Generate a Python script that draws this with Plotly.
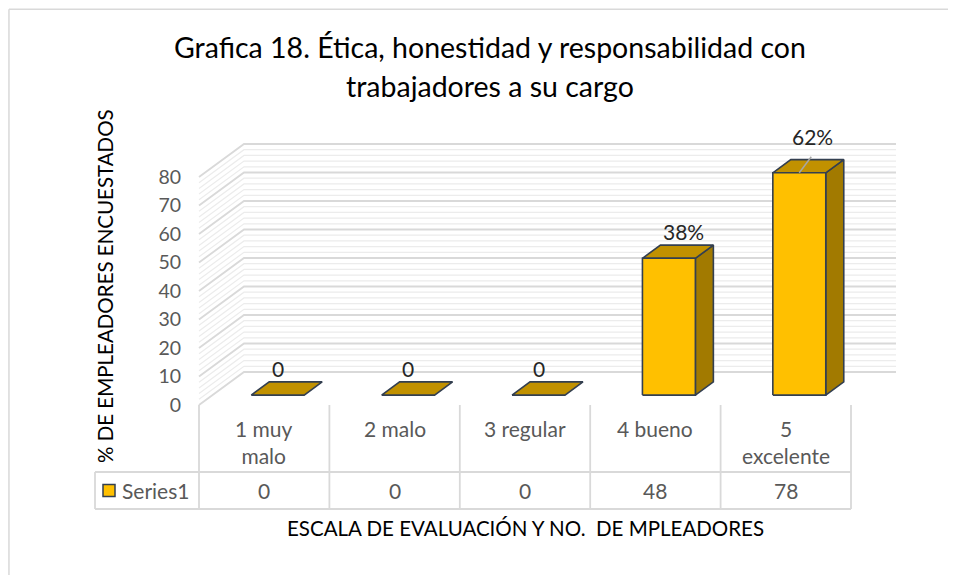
import plotly.graph_objects as go

# ---------------- data ----------------
categories = ["1 muy<br>malo", "2 malo", "3 regular", "4 bueno", "5<br>excelente"]
values = [0, 0, 0, 48, 78]
value_labels = ["0", "0", "0", "38%", "62%"]
y_ticks = [0, 10, 20, 30, 40, 50, 60, 70, 80]
series_name = "Series1"
title_line1 = "Grafica 18. Ética, honestidad y responsabilidad con"
title_line2 = "trabajadores a su cargo"
y_title = "% DE EMPLEADORES ENCUESTADOS"
x_title = "ESCALA DE EVALUACIÓN Y NO.  DE MPLEADORES"

# ---------------- layout / style constants ----------------
W, H = 956, 575
OFF = 8                    # page body margin (screen px -> figure px)
FONT = "Lato"
PX0, PXU = 199 - OFF, 130.4    # figure pixel of category edge 0, pixels per category
PY0, PYU = 405 - OFF, 2.85     # figure pixel of value 0 (front plane), pixels per unit
XR = [-PX0 / PXU, (W - PX0) / PXU]
YR = [(PY0 - H) / PYU, PY0 / PYU]
DX, DY = 45 / PXU, 33 / PYU   # depth offset of the back wall (data units)
TF, TB = 0.30, 0.70           # bar front/back depth
BW = 0.406                    # bar width (category units)
YMAX = 80
MINOR = 2

FRONT = "#FFC000"
TOP = "#C19100"
SIDE = "#A27A00"
EDGE = "#333F50"
GRID = "#D9D9D9"
GRID_MINOR = "#ECECEC"
TXT_GRAY = "#595959"


def px2x(px):          # screen px -> x data
    return (px - OFF - PX0) / PXU


def py2v(py):          # screen px -> y data
    return (PY0 - (py - OFF)) / PYU


def sx(px):            # screen px -> paper x
    return (px - OFF) / W


def sy(py):            # screen px -> paper y
    return 1 - (py - OFF) / H


def P(x, v, t):
    return x + t * DX, v + t * DY


fig = go.Figure()

# ---------------- walls & gridlines ----------------
ncat = len(categories)
for step_is_major in (False, True):
    xs, ys = [], []
    v = 0
    while v <= YMAX:
        major = (v % 10 == 0)
        if major == step_is_major:
            for (x, t) in ((0, 0), (0, 1), (ncat, 1)):
                a, b = P(x, v, t)
                xs.append(a)
                ys.append(b)
            xs.append(None)
            ys.append(None)
        v += MINOR
    fig.add_trace(go.Scatter(
        x=xs, y=ys, mode="lines",
        line=dict(color=GRID if step_is_major else GRID_MINOR,
                  width=1.8 if step_is_major else 1.2),
        hoverinfo="skip", showlegend=False))


def poly(pts, color):
    xs = [p[0] for p in pts] + [pts[0][0]]
    ys = [p[1] for p in pts] + [pts[0][1]]
    fig.add_trace(go.Scatter(
        x=xs, y=ys, mode="lines", fill="toself", fillcolor=color,
        line=dict(color=EDGE, width=1.6), hoverinfo="skip", showlegend=False))


# ---------------- 3D bars ----------------
for i, v in enumerate(values):
    xl = i + 0.5 - BW / 2
    xr = i + 0.5 + BW / 2
    if v > 0:
        poly([P(xr, 0, TF), P(xr, 0, TB), P(xr, v, TB), P(xr, v, TF)], SIDE)
    poly([P(xl, v, TF), P(xr, v, TF), P(xr, v, TB), P(xl, v, TB)], TOP)
    if v > 0:
        poly([P(xl, 0, TF), P(xr, 0, TF), P(xr, v, TF), P(xl, v, TF)], FRONT)

# ---------------- data labels ----------------
annotations = []
LEADER_INDEX = len(values) - 1
for i, (v, lab) in enumerate(zip(values, value_labels)):
    if i == LEADER_INDEX:
        cx, cy = P(i + 0.5, v, 0.5)
        cx += 4 / PXU
        lift = 30
        x0, y0 = P(i + 0.5, v, TF)
        fig.add_trace(go.Scatter(
            x=[x0, x0 + 12 / PXU], y=[y0, y0 + 16 / PYU], mode="lines",
            line=dict(color="#A6A6A6", width=1.5),
            hoverinfo="skip", showlegend=False))
    else:
        cx, _ = P(i + 0.5, v, TB if v > 0 else TF)
        cx -= 3 / PXU if v > 0 else 0
        _, cy = P(i + 0.5, v, 0.5)
        lift = 20
    annotations.append(dict(
        x=cx, y=cy, xref="x", yref="y", text=lab, showarrow=False,
        yanchor="middle", xanchor="center", yshift=lift,
        font=dict(family=FONT, size=21, color="#262626")))

# ---------------- data table ----------------
row_top = py2v(405)
row_mid = py2v(472)
row_bot = py2v(509)
leg_left = px2x(95)
tx, ty = [], []
for k in range(ncat + 1):
    tx += [k, k, None]
    ty += [row_top, row_bot, None]
tx += [leg_left, ncat, None, leg_left, ncat, None, leg_left, leg_left, None]
ty += [row_mid, row_mid, None, row_bot, row_bot, None, row_mid, row_bot, None]
fig.add_trace(go.Scatter(x=tx, y=ty, mode="lines",
                         line=dict(color=GRID, width=1.8),
                         hoverinfo="skip", showlegend=False))

for i, (c, v) in enumerate(zip(categories, values)):
    annotations.append(dict(
        x=i + 0.5, y=py2v(414), xref="x", yref="y", text=c, showarrow=False,
        yanchor="top", xanchor="center",
        font=dict(family=FONT, size=21, color=TXT_GRAY)))
    annotations.append(dict(
        x=i + 0.5, y=(row_mid + row_bot) / 2, xref="x", yref="y", text=str(v),
        showarrow=False, yanchor="middle", xanchor="center",
        font=dict(family=FONT, size=21, color=TXT_GRAY)))

# legend key in table
fig.add_trace(go.Scatter(
    x=[px2x(109)], y=[(row_mid + row_bot) / 2], mode="markers",
    marker=dict(symbol="square", size=12, color=FRONT,
                line=dict(color=EDGE, width=1.5)),
    hoverinfo="skip", showlegend=False))
annotations.append(dict(
    x=px2x(120), y=(row_mid + row_bot) / 2, xref="x", yref="y", text=series_name,
    showarrow=False, yanchor="middle", xanchor="left",
    font=dict(family=FONT, size=21, color=TXT_GRAY)))

# ---------------- titles ----------------
annotations.append(dict(x=sx(490), y=sy(47), xref="paper", yref="paper",
                        text=title_line1, showarrow=False, xanchor="center", yanchor="middle",
                        font=dict(family=FONT, size=28.5, color="#000000")))
annotations.append(dict(x=sx(490), y=sy(86), xref="paper", yref="paper",
                        text=title_line2, showarrow=False, xanchor="center", yanchor="middle",
                        font=dict(family=FONT, size=28.5, color="#000000")))
annotations.append(dict(x=sx(105), y=sy(286), xref="paper", yref="paper",
                        text=y_title, showarrow=False, textangle=-90,
                        xanchor="center", yanchor="middle",
                        font=dict(family=FONT, size=20.5, color="#000000")))
annotations.append(dict(x=sx(525), y=sy(528), xref="paper", yref="paper",
                        text=x_title, showarrow=False, xanchor="center", yanchor="middle",
                        font=dict(family=FONT, size=20.5, color="#000000")))

# chart border
shapes = [
    dict(type="line", xref="paper", yref="paper", x0=0.001, x1=1, y0=0.998, y1=0.998,
         line=dict(color="#D9D9D9", width=1.5)),
    dict(type="line", xref="paper", yref="paper", x0=0.001, x1=0.001, y0=0, y1=0.998,
         line=dict(color="#D9D9D9", width=1.5)),
]

fig.update_layout(
    width=W, height=H, autosize=False,
    margin=dict(l=0, r=0, t=0, b=0),
    paper_bgcolor="white", plot_bgcolor="white",
    showlegend=False,
    annotations=annotations,
    shapes=shapes,
    xaxis=dict(range=XR, showgrid=False, zeroline=False, showticklabels=False,
               showline=False, fixedrange=True),
    yaxis=dict(range=YR, anchor="free", position=173 / W, side="left",
               tickvals=y_ticks, ticktext=[str(t) for t in y_ticks],
               showgrid=False, zeroline=False, showline=False, ticks="",
               tickfont=dict(family=FONT, size=19.5, color=TXT_GRAY), fixedrange=True),
)

fig.write_html("out.html")
